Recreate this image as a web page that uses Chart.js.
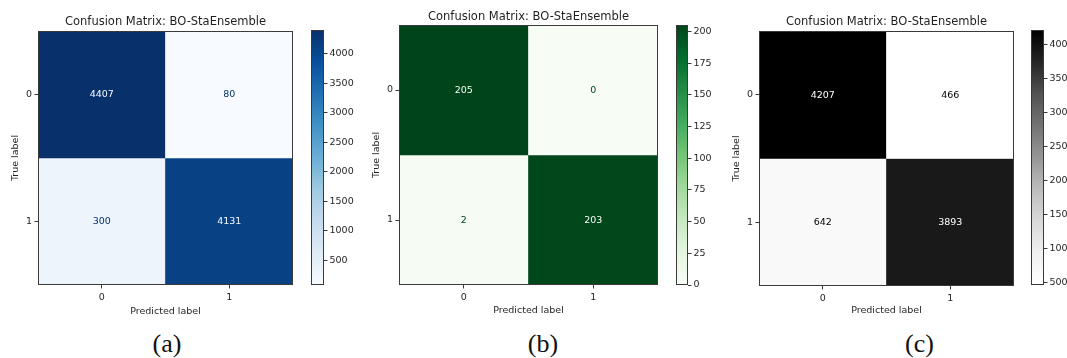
<!DOCTYPE html>
<html>
<head>
<meta charset="utf-8">
<script src="https://cdn.jsdelivr.net/npm/chart.js@4.4.1/dist/chart.umd.min.js"></script>
<style>
  html, body { margin: 0; padding: 0; background: #ffffff; }
  #page { position: relative; width: 1067px; height: 358px; overflow: hidden; background: #ffffff; }
  #page canvas { position: absolute; }
  .caption {
    position: absolute; width: 80px; text-align: center;
    font-family: "Liberation Serif", "DejaVu Serif", serif;
    font-size: 26px; line-height: 26px; color: #111111;
  }
</style>
</head>
<body>
<div id="page"></div>
<script>
// ---- data ----
const predictedLabels = ['0', '1'];
const trueLabels = ['0', '1'];
const countsBlue = [[4407, 80], [300, 4131]];
const countsGreen = [[205, 0], [2, 203]];
const countsGrey = [[4207, 466], [642, 3893]];
const colorbarTicksBlue = [500, 1000, 1500, 2000, 2500, 3000, 3500, 4000];
const colorbarTicksGreen = [0, 25, 50, 75, 100, 125, 150, 175, 200];
const colorbarTicksGrey = [500, 1000, 1500, 2000, 2500, 3000, 3500, 4000];
const titleText = 'Confusion Matrix: BO-StaEnsemble';
const captions = ['(a)', '(b)', '(c)'];

// ColorBrewer sequential ramps (same as matplotlib Blues / Greens / Greys)
const rampBlues = ['#f7fbff', '#deebf7', '#c6dbef', '#9ecae1', '#6baed6', '#4292c6', '#2171b5', '#08519c', '#08306b'];
const rampGreens = ['#f7fcf5', '#e5f5e0', '#c7e9c0', '#a1d99b', '#74c476', '#41ab5d', '#238b45', '#006d2c', '#00441b'];
const rampGreys = ['#ffffff', '#f0f0f0', '#d9d9d9', '#bdbdbd', '#969696', '#737373', '#525252', '#252525', '#000000'];

// ---- helpers ----
const FONT = "'DejaVu Sans', sans-serif";
const INK = '#1f1f1f';
const EDGE = '#3a3a3a';
const CANVAS_H = 320;

function hexToRgb(h) {
  const n = parseInt(h.slice(1), 16);
  return [(n >> 16) & 255, (n >> 8) & 255, n & 255];
}
function makeColormap(stops) {
  const rgb = stops.map(hexToRgb);
  return t => {
    t = Math.min(1, Math.max(0, t));
    const s = t * (rgb.length - 1);
    const i = Math.min(Math.floor(s), rgb.length - 2);
    const f = s - i;
    const c = rgb[i].map((v, k) => Math.round(v + (rgb[i + 1][k] - v) * f));
    return `rgb(${c[0]},${c[1]},${c[2]})`;
  };
}

const page = document.getElementById('page');
function addCanvas(left, top, width, height) {
  const c = document.createElement('canvas');
  c.width = width; c.height = height;
  c.style.left = left + 'px'; c.style.top = top + 'px';
  c.style.width = width + 'px'; c.style.height = height + 'px';
  page.appendChild(c);
  return c;
}

// frame around the plotting area (matplotlib-style spines)
const framePlugin = {
  id: 'frame',
  afterDatasetsDraw(chart) {
    const { ctx, chartArea: a } = chart;
    ctx.save();
    ctx.strokeStyle = EDGE;
    ctx.lineWidth = 1;
    const l = Math.round(a.left) + 0.5, t = Math.round(a.top) + 0.5;
    const r = Math.round(a.right) - 0.5, b = Math.round(a.bottom) - 0.5;
    ctx.strokeRect(l, t, r - l, b - t);
    ctx.restore();
  }
};

// count printed in the middle of each cell
const cellLabelPlugin = {
  id: 'cellLabels',
  afterDatasetsDraw(chart) {
    const { ctx } = chart;
    const o = chart.options.plugins.cellLabels;
    chart.data.datasets.forEach((ds, r) => {
      chart.getDatasetMeta(r).data.forEach((bar, c) => {
        const v = ds.counts[c];
        ctx.save();
        ctx.fillStyle = v < o.threshold ? o.darkText : o.lightText;
        ctx.font = `9.5px ${FONT}`;
        ctx.textAlign = 'center';
        ctx.textBaseline = 'middle';
        ctx.fillText(String(v), bar.x, (bar.y + bar.base) / 2 + 0.5);
        ctx.restore();
      });
    });
  }
};

const tickGrid = {
  display: true, drawOnChartArea: false, drawTicks: true,
  tickLength: 3.5, tickWidth: 1, tickColor: EDGE
};

function drawPanel(p) {
  const cmap = makeColormap(p.ramp);
  const flat = p.counts.flat();
  const vmin = Math.min(...flat), vmax = Math.max(...flat);
  const norm = v => (v - vmin) / (vmax - vmin);
  const titleLH = 11.5 * 1.2;
  const axisLH = 9.5 * 1.2;

  // heatmap of the confusion matrix
  const hmLeft = p.area.left - 38;
  const hmWidth = p.area.right + 8 - hmLeft;
  new Chart(addCanvas(hmLeft, 0, hmWidth, CANVAS_H), {
    type: 'bar',
    data: {
      labels: predictedLabels,
      datasets: trueLabels.map((lab, r) => ({
        label: 'True ' + lab,
        data: predictedLabels.map(() => [r - 0.5, r + 0.5]),
        counts: p.counts[r],
        backgroundColor: p.counts[r].map(v => cmap(norm(v))),
        borderWidth: 0,
        grouped: false,
        barPercentage: 1,
        categoryPercentage: 1
      }))
    },
    plugins: [cellLabelPlugin, framePlugin],
    options: {
      responsive: false,
      animation: false,
      events: [],
      layout: { padding: { top: p.titleY - titleLH / 2, right: 8, bottom: 0, left: 0 } },
      plugins: {
        legend: { display: false },
        tooltip: { enabled: false },
        title: {
          display: true, text: titleText, fullSize: false, color: INK,
          font: { family: FONT, size: 11.5, weight: 'normal', lineHeight: 1.2 },
          padding: { top: 0, bottom: p.area.top - p.titleY - titleLH / 2 }
        },
        cellLabels: { threshold: (vmin + vmax) / 2, darkText: cmap(1), lightText: cmap(0) }
      },
      scales: {
        x: {
          type: 'category', offset: true,
          grid: Object.assign({ offset: false }, tickGrid),
          border: { display: false },
          ticks: { color: INK, padding: 3.5, font: { family: FONT, size: 9.5 } },
          title: {
            display: true, text: 'Predicted label', color: INK,
            font: { family: FONT, size: 9.5, lineHeight: 1.2 },
            padding: { top: 0, bottom: CANVAS_H - p.xTitleY - axisLH / 2 }
          },
          afterFit: s => { s.height = CANVAS_H - p.area.bottom; }
        },
        y: {
          type: 'linear', reverse: true, bounds: 'data',
          min: -0.5, max: trueLabels.length - 0.5,
          grid: tickGrid,
          border: { display: false },
          afterBuildTicks: s => { s.ticks = trueLabels.map((_, i) => ({ value: i })); },
          ticks: {
            color: INK, padding: 2.5, font: { family: FONT, size: 9.5 },
            callback: v => trueLabels[v] ?? ''
          },
          title: {
            display: true, text: 'True label', color: INK,
            font: { family: FONT, size: 9.5, lineHeight: 1.2 },
            padding: { top: p.yTitleX - hmLeft - axisLH / 2, bottom: 0 }
          },
          afterFit: s => { s.width = 38; }
        }
      }
    }
  });

  // colour bar
  const cbLeft = p.cb.left - 6;
  const cbRightEdge = Math.min(1067, p.cb.right + 40);
  const cbWidth = cbRightEdge - cbLeft;
  new Chart(addCanvas(cbLeft, 0, cbWidth, CANVAS_H), {
    type: 'bar',
    data: {
      labels: ['scale'],
      datasets: [{
        data: [[vmin, vmax]],
        borderWidth: 0,
        barPercentage: 1,
        categoryPercentage: 1,
        backgroundColor: ctx => {
          const a = ctx.chart.chartArea;
          if (!a) return cmap(0.5);
          const g = ctx.chart.ctx.createLinearGradient(0, a.bottom, 0, a.top);
          p.ramp.forEach((c, i) => g.addColorStop(i / (p.ramp.length - 1), c));
          return g;
        }
      }]
    },
    plugins: [framePlugin],
    options: {
      responsive: false,
      animation: false,
      events: [],
      layout: { padding: { top: p.cb.top, right: 0, bottom: CANVAS_H - p.cb.bottom, left: 6 } },
      plugins: { legend: { display: false }, tooltip: { enabled: false }, title: { display: false } },
      scales: {
        x: { display: false, offset: true },
        y: {
          type: 'linear', position: 'right', bounds: 'data',
          min: vmin, max: vmax,
          grid: tickGrid,
          border: { display: false },
          afterBuildTicks: s => { s.ticks = p.cbTicks.map(v => ({ value: v })); },
          ticks: { color: INK, padding: 2, font: { family: FONT, size: 9.5 }, callback: v => String(v) },
          afterFit: s => { s.width = cbRightEdge - p.cb.right; }
        }
      }
    }
  });

  // panel caption
  const cap = document.createElement('div');
  cap.className = 'caption';
  cap.textContent = p.caption;
  cap.style.left = (p.captionX - 40) + 'px';
  cap.style.top = '331px';
  page.appendChild(cap);
}

const panels = [
  { counts: countsBlue, ramp: rampBlues, cbTicks: colorbarTicksBlue, caption: captions[0],
    area: { left: 38, top: 31, right: 293, bottom: 285 }, titleY: 22.5, xTitleY: 311.5, yTitleX: 16,
    cb: { left: 311, top: 30, right: 324, bottom: 285 }, captionX: 167 },
  { counts: countsGreen, ramp: rampGreens, cbTicks: colorbarTicksGreen, caption: captions[1],
    area: { left: 399, top: 25, right: 658, bottom: 285 }, titleY: 17, xTitleY: 310.5, yTitleX: 377,
    cb: { left: 676, top: 25, right: 688, bottom: 285 }, captionX: 543 },
  { counts: countsGrey, ramp: rampGreys, cbTicks: colorbarTicksGrey, caption: captions[2],
    area: { left: 759, top: 31, right: 1014, bottom: 286 }, titleY: 22.2, xTitleY: 311, yTitleX: 737,
    cb: { left: 1031, top: 30, right: 1044, bottom: 285 }, captionX: 919.5 }
];
panels.forEach(drawPanel);
</script>
</body>
</html>
